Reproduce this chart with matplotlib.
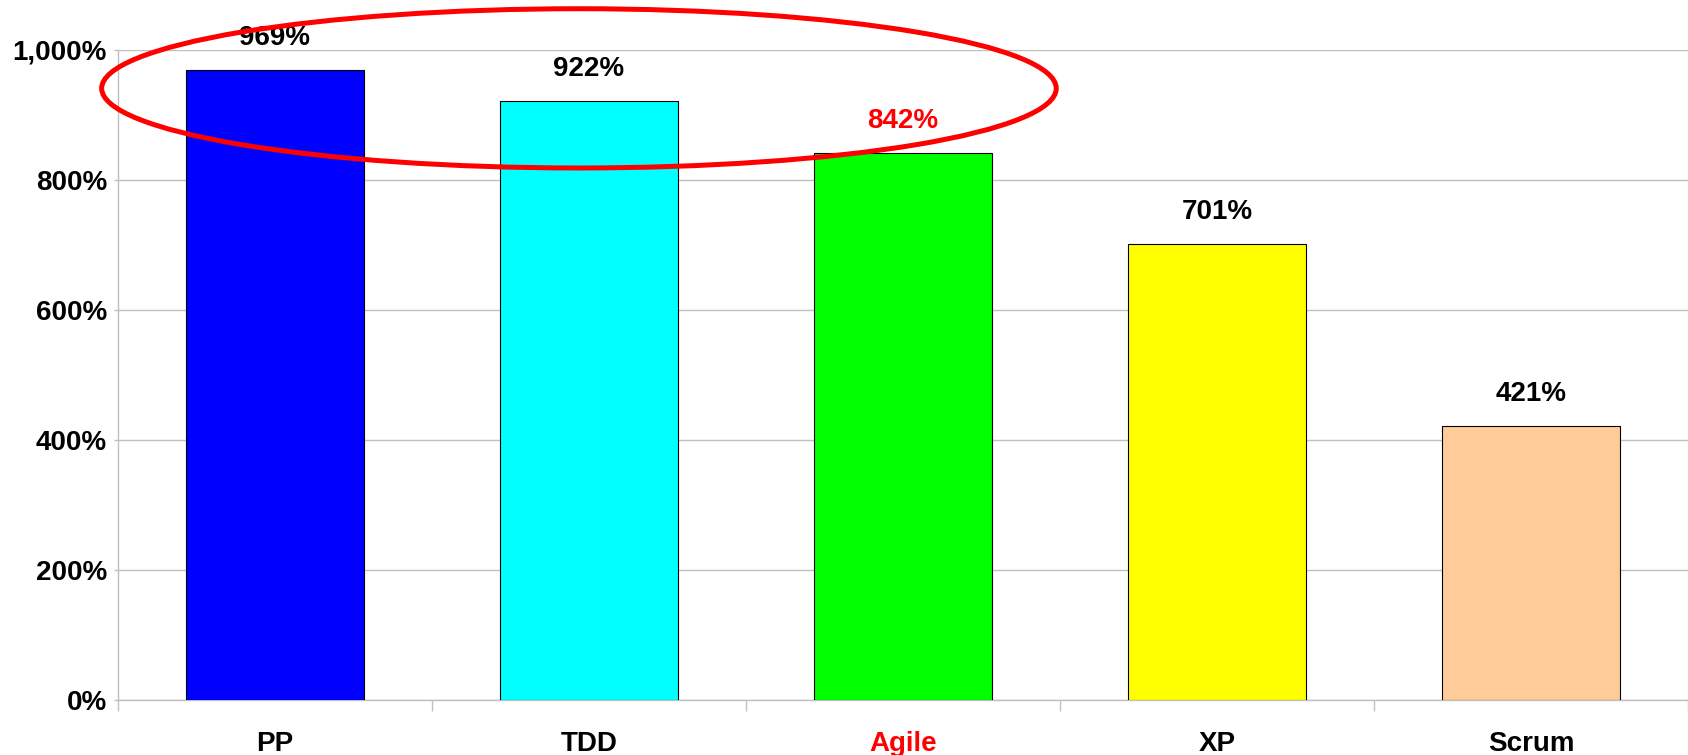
import matplotlib
matplotlib.use("Agg")
import matplotlib.pyplot as plt
from matplotlib.patches import Ellipse
from matplotlib.ticker import FuncFormatter, FixedLocator

# Data
categories = ["PP", "TDD", "Agile", "XP", "Scrum"]
values = [969, 922, 842, 701, 421]
bar_colors = ["#0000FF", "#00FFFF", "#00FF00", "#FFFF00", "#FFCC99"]
highlight = "Agile"

plt.rcParams["font.family"] = ["Liberation Sans", "DejaVu Sans"]
plt.rcParams["font.weight"] = "bold"

fig = plt.figure(figsize=(16.88, 7.55), dpi=100)
ax = fig.add_axes([118 / 1688, 55 / 755, 1 - 118 / 1688, 650 / 755])

x = list(range(len(categories)))
bars = ax.bar(x, values, width=0.57, color=bar_colors, edgecolor="black",
              linewidth=0.8, zorder=3)

ax.set_xlim(-0.5, len(categories) - 0.5)
ax.set_ylim(0, 1000)

# Grid and axes styling
ax.set_yticks(range(0, 1001, 200))
ax.yaxis.set_major_formatter(FuncFormatter(lambda v, p: f"{int(v):,}%"))
ax.grid(axis="y", color="#c0c0c0", linewidth=1, zorder=0)
for side in ["top", "right"]:
    ax.spines[side].set_visible(False)
for side in ["left", "bottom"]:
    ax.spines[side].set_color("#c0c0c0")
    ax.spines[side].set_linewidth(1)
ax.tick_params(axis="y", length=3, width=1, color="#c0c0c0", pad=5,
               labelsize=20)

# Category ticks at boundaries, labels at centers
ax.xaxis.set_major_locator(FixedLocator([i - 0.5 for i in range(len(categories) + 1)]))
ax.xaxis.set_minor_locator(FixedLocator(x))
ax.xaxis.set_major_formatter(FuncFormatter(lambda v, p: ""))
ax.set_xticks(x, categories, minor=True)
ax.tick_params(axis="x", which="major", length=8, width=1, color="#c0c0c0")
ax.tick_params(axis="x", which="minor", length=0, pad=22, labelsize=20)
for lbl in ax.get_xticklabels(minor=True):
    lbl.set_fontweight("bold")
    if lbl.get_text() == highlight:
        lbl.set_color("red")
for lbl in ax.get_yticklabels():
    lbl.set_fontweight("bold")

# Value labels
for xi, v, cat in zip(x, values, categories):
    ax.annotate(f"{v}%", xy=(xi, v), xytext=(0, 32), textcoords="offset pixels",
                ha="center", va="center", fontsize=20, fontweight="bold",
                color="red" if cat == highlight else "black",
                annotation_clip=False, zorder=5)

# Highlight ring around the top three
ring = Ellipse((0.968, 941), width=3.04, height=245, fill=False,
               edgecolor="red", linewidth=3.6, clip_on=False, zorder=6)
ax.add_patch(ring)

fig.savefig("out.png", dpi=100)
